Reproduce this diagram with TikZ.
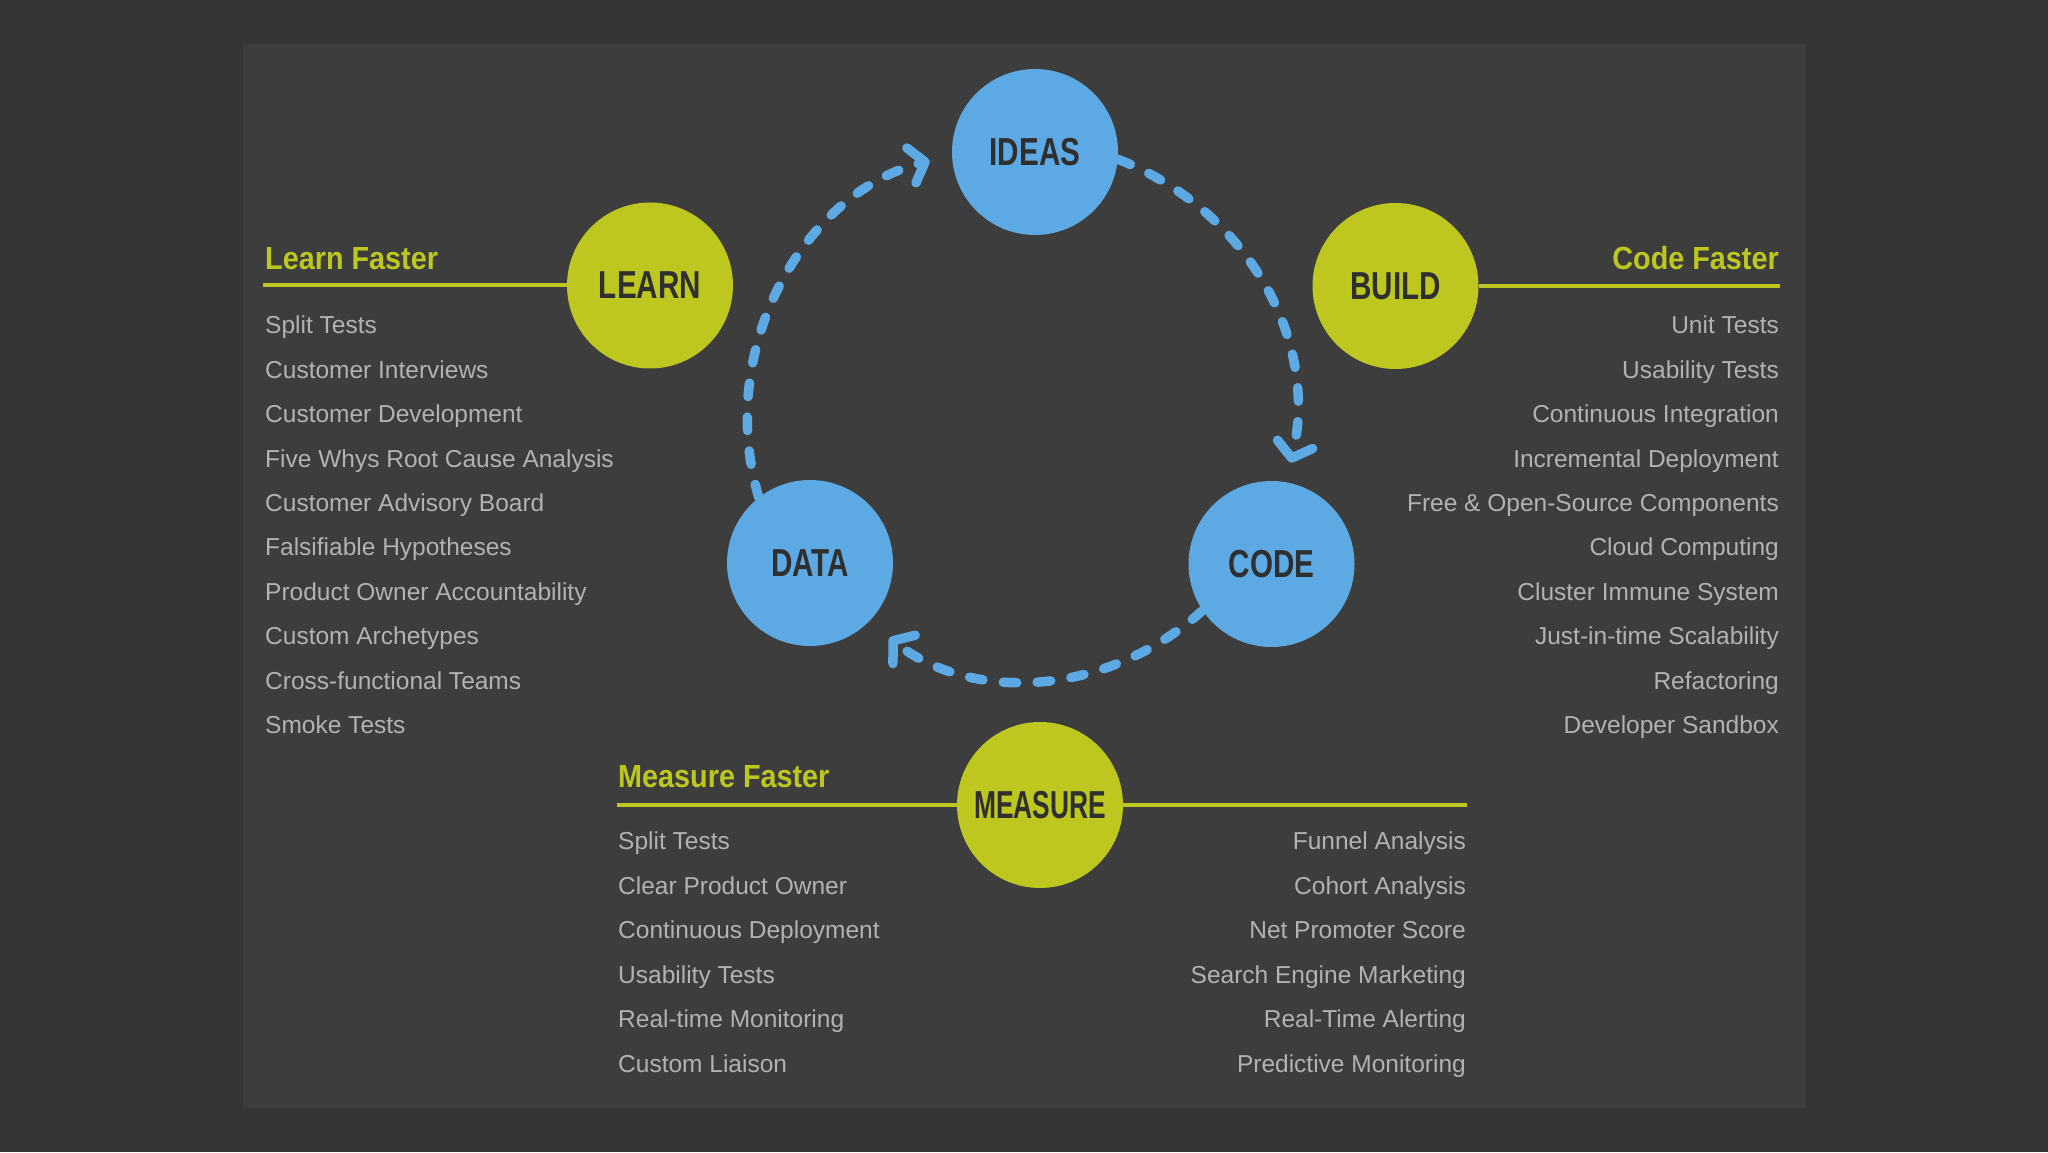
\documentclass[tikz,border=0pt]{standalone}
\usepackage{fontspec}
\setmainfont{Liberation Sans}
\newfontfamily\circfont[FakeStretch=0.76]{Liberation Sans}
\newfontfamily\headfont[FakeStretch=0.9]{Liberation Sans}
\usetikzlibrary{arrows.meta}
\definecolor{bgout}{HTML}{353535}
\definecolor{bgpanel}{HTML}{3D3D3D}
\definecolor{lime}{HTML}{BDC71F}
\definecolor{sky}{HTML}{5DA9E3}
\definecolor{itemgray}{HTML}{B2B2B2}
\definecolor{ink}{HTML}{2F2F2F}
\tikzset{
  stage/.style={circle, fill=#1, minimum size=166pt, inner sep=0pt, text=ink, font=\circfont\bfseries\fontsize{39}{39}\selectfont},
  headline/.style={inner sep=0pt, text=lime, font=\headfont\bfseries\fontsize{32}{32}\selectfont},
  task/.style={inner sep=0pt, text=itemgray, font=\fontsize{24.5}{26}\selectfont},
  hrule/.style={draw=lime, line width=4pt},
  cyc/.style={draw=sky, line width=9.5pt, line cap=round, dash pattern=on 13.5pt off 20.5pt, -{Straight Barb[length=14pt,width=36pt,round]}},
}

\begin{document}
\begin{tikzpicture}[x=1pt,y=1pt]
  \fill[bgout] (0,0) rectangle (2048,1152);
  \fill[bgpanel] (243,44) rectangle (1806,1108);

  \node[stage=sky] (IDEAS) at (1035,1000) {IDEAS};
  \node[stage=lime] (LEARN) at (650,866.5) {LEARN};
  \node[stage=lime] (BUILD) at (1395.5,866) {BUILD};
  \node[stage=sky] (DATA) at (810,589) {DATA};
  \node[stage=sky] (CODE) at (1271.5,588) {CODE};
  \node[stage=lime] (MEASURE) at (1040,347) {\scalebox{0.89}[1]{MEASURE}};

  % the loop
  \draw[cyc, shorten >=23pt] (DATA.128) to[bend left=46] (IDEAS.182);
  \draw[cyc, shorten >=20pt] (IDEAS.-5) to[bend left=41] (CODE.80);
  \draw[cyc, shorten >=26pt] (CODE.214) to[bend left=40] (DATA.-45);

  % headings and rules
  \node[headline, anchor=base west] (learnhead) at (265,882) {Learn Faster};
  \node[headline, anchor=base east] (codehead) at (1779,882) {Code Faster};
  \node[headline, anchor=base west] (measurehead) at (618,364) {Measure Faster};
  \coordinate (lrule) at (263,866.5);
  \coordinate (brule) at (1780,866);
  \coordinate (mrulel) at (617,347);
  \coordinate (mruler) at (1467,347);
  \draw[hrule] (lrule) -- (LEARN);
  \draw[hrule] (BUILD) -- (brule);
  \draw[hrule] (mrulel) -- (MEASURE);
  \draw[hrule] (MEASURE) -- (mruler);

  % lists
  \foreach \t [count=\i from 0] in {Split Tests, Customer Interviews, Customer Development, Five Whys Root Cause Analysis, Customer Advisory Board, Falsifiable Hypotheses, Product Owner Accountability, Custom Archetypes, Cross-functional Teams, Smoke Tests}
    \node[task, anchor=base west] (learn-\i) at (265,818-44.4*\i) {\t};
  \foreach \t [count=\i from 0] in {Unit Tests, Usability Tests, Continuous Integration, Incremental Deployment, Free \& Open-Source Components, Cloud Computing, Cluster Immune System, Just-in-time Scalability, Refactoring, Developer Sandbox}
    \node[task, anchor=base east] (build-\i) at (1779,818-44.4*\i) {\t};
  \foreach \t [count=\i from 0] in {Split Tests, Clear Product Owner, Continuous Deployment, Usability Tests, Real-time Monitoring, Custom Liaison}
    \node[task, anchor=base west] (meas-\i) at (618,302-44.4*\i) {\t};
  \foreach \t [count=\i from 0] in {Funnel Analysis, Cohort Analysis, Net Promoter Score, Search Engine Marketing, Real-Time Alerting, Predictive Monitoring}
    \node[task, anchor=base east] (metric-\i) at (1466,302-44.4*\i) {\t};
\end{tikzpicture}
\end{document}
